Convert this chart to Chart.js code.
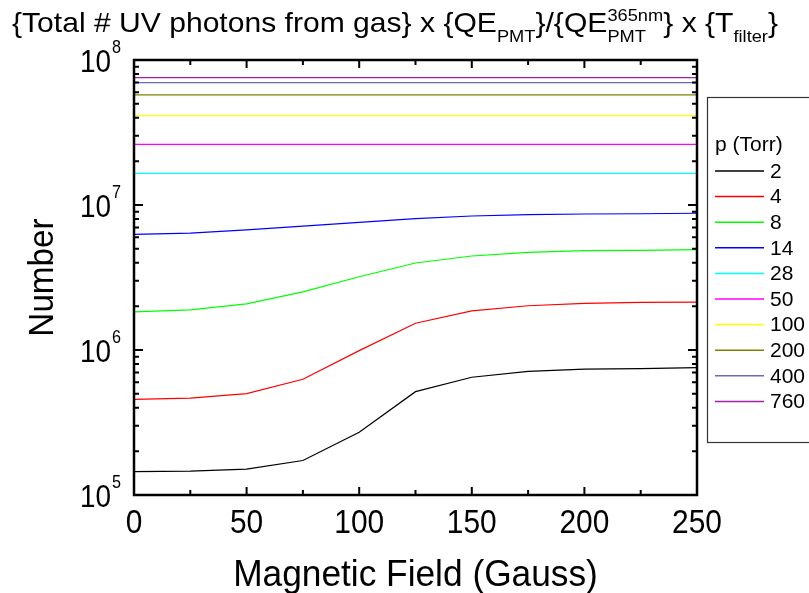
<!DOCTYPE html>
<html>
<head>
<meta charset="utf-8">
<script src="https://cdn.jsdelivr.net/npm/chart.js@4/dist/chart.umd.min.js"></script>
<style>
  html, body { margin: 0; padding: 0; background: #fff; }
  canvas { display: block; }
</style>
</head>
<body>
<canvas id="grafico" width="809" height="593"></canvas>
<script>
// magnetic field (Gauss)
const campo = [0, 25, 50, 75, 100, 125, 150, 175, 200, 225, 250];

// pressures (Torr) and line colours
const pressoes = ['2', '4', '8', '14', '28', '50', '100', '200', '400', '760'];
const cores = ['#000000', '#ff0000', '#00ff00', '#0000ff', '#00ffff',
               '#ff00ff', '#ffff00', '#808000', '#6a6ab8', '#a020a8'];

// number of photons, one array per pressure
const p2   = [1.45e5, 1.46e5, 1.51e5, 1.73e5, 2.71e5, 5.16e5, 6.49e5, 7.13e5, 7.39e5, 7.45e5, 7.55e5];
const p4   = [4.57e5, 4.65e5, 5.00e5, 6.28e5, 9.90e5, 1.53e6, 1.86e6, 2.02e6, 2.10e6, 2.13e6, 2.14e6];
const p8   = [1.83e6, 1.89e6, 2.08e6, 2.52e6, 3.20e6, 3.98e6, 4.45e6, 4.72e6, 4.84e6, 4.87e6, 4.92e6];
const p14  = [6.28e6, 6.40e6, 6.73e6, 7.16e6, 7.60e6, 8.05e6, 8.40e6, 8.57e6, 8.67e6, 8.70e6, 8.77e6];
const p28  = [1.65e7, 1.65e7, 1.65e7, 1.65e7, 1.65e7, 1.65e7, 1.65e7, 1.65e7, 1.65e7, 1.65e7, 1.65e7];
const p50  = [2.62e7, 2.62e7, 2.62e7, 2.62e7, 2.62e7, 2.62e7, 2.62e7, 2.62e7, 2.62e7, 2.62e7, 2.62e7];
const p100 = [4.13e7, 4.13e7, 4.13e7, 4.13e7, 4.13e7, 4.13e7, 4.13e7, 4.13e7, 4.13e7, 4.13e7, 4.13e7];
const p200 = [5.74e7, 5.74e7, 5.74e7, 5.74e7, 5.74e7, 5.74e7, 5.74e7, 5.74e7, 5.74e7, 5.74e7, 5.74e7];
const p400 = [6.98e7, 6.98e7, 6.98e7, 6.98e7, 6.98e7, 6.98e7, 6.98e7, 6.98e7, 6.98e7, 6.98e7, 6.98e7];
const p760 = [7.55e7, 7.55e7, 7.55e7, 7.55e7, 7.55e7, 7.55e7, 7.55e7, 7.55e7, 7.55e7, 7.55e7, 7.55e7];
const series = [p2, p4, p8, p14, p28, p50, p100, p200, p400, p760];

// ticks
const xMajor = [0, 50, 100, 150, 200, 250];
const xMinor = [25, 75, 125, 175, 225];
const yExpoentes = [5, 6, 7, 8];
const yMenores = [2, 3, 4, 5, 6, 7, 8, 9];

const FONTE = '"Liberation Sans", Arial, sans-serif';

// draws text squeezed horizontally to look like a narrow font
function textoEstreito(ctx, txt, x, y, px, fator, align) {
  ctx.save();
  ctx.font = px + 'px ' + FONTE;
  const w = ctx.measureText(txt).width * fator;
  let x0 = x;
  if (align === 'center') x0 = x - w / 2;
  else if (align === 'right') x0 = x - w;
  ctx.translate(x0, y);
  ctx.scale(fator, 1);
  ctx.textAlign = 'left';
  ctx.fillText(txt, 0, 0);
  ctx.restore();
}

const desenhos = {
  id: 'desenhos',
  afterDatasetsDraw(chart) {
    const ctx = chart.ctx;
    const a = chart.chartArea;
    const xs = chart.scales.x, ys = chart.scales.y;
    ctx.save();

    // frame
    ctx.strokeStyle = '#000';
    ctx.lineWidth = 2.5;
    ctx.strokeRect(a.left, a.top, a.right - a.left, a.bottom - a.top);

    // x ticks (inward, bottom and top)
    ctx.lineWidth = 2;
    ctx.beginPath();
    xMajor.forEach(v => {
      const px = xs.getPixelForValue(v);
      ctx.moveTo(px, a.bottom); ctx.lineTo(px, a.bottom - 8);
      ctx.moveTo(px, a.top); ctx.lineTo(px, a.top + 8);
    });
    xMinor.forEach(v => {
      const px = xs.getPixelForValue(v);
      ctx.moveTo(px, a.bottom); ctx.lineTo(px, a.bottom - 5);
      ctx.moveTo(px, a.top); ctx.lineTo(px, a.top + 5);
    });
    // y ticks (inward, left and right)
    yExpoentes.forEach(e => {
      const py = ys.getPixelForValue(Math.pow(10, e));
      ctx.moveTo(a.left, py); ctx.lineTo(a.left + 9, py);
      ctx.moveTo(a.right, py); ctx.lineTo(a.right - 9, py);
      if (e < 8) {
        yMenores.forEach(m => {
          const q = ys.getPixelForValue(m * Math.pow(10, e));
          ctx.moveTo(a.left, q); ctx.lineTo(a.left + 5, q);
          ctx.moveTo(a.right, q); ctx.lineTo(a.right - 5, q);
        });
      }
    });
    ctx.stroke();

    ctx.fillStyle = '#000';
    ctx.textBaseline = 'alphabetic';

    // x tick labels
    xMajor.forEach(v => textoEstreito(ctx, String(v), xs.getPixelForValue(v), a.bottom + 38, 34, 0.88, 'center'));

    // y tick labels 10^n
    yExpoentes.forEach(e => {
      const py = ys.getPixelForValue(Math.pow(10, e));
      textoEstreito(ctx, '10', 111, py + 12, 31, 0.9, 'right');
      textoEstreito(ctx, String(e), 112, py - 7, 18, 0.9, 'left');
    });

    // axis titles
    textoEstreito(ctx, 'Magnetic Field (Gauss)', (a.left + a.right) / 2, 586, 36, 0.98, 'center');
    ctx.save();
    ctx.translate(53, (a.top + a.bottom) / 2);
    ctx.rotate(-Math.PI / 2);
    textoEstreito(ctx, 'Number', 0, 0, 35, 0.95, 'center');
    ctx.restore();

    // title with sub/superscripts
    const partes = [
      { t: '{Total # UV photons from gas} x {QE', f: 28, dy: 0 },
      { t: 'PMT', f: 17, dy: 10 },
      { t: '}/{QE', f: 28, dy: 0 },
      { t: '365nm|PMT', f: 17, dy: 0, pilha: true },
      { t: '} x {T', f: 28, dy: 0 },
      { t: 'filter', f: 17, dy: 10 },
      { t: '}', f: 28, dy: 0 }
    ];
    const larg = p => {
      ctx.font = p.f + 'px ' + FONTE;
      if (p.pilha) {
        const [s, b] = p.t.split('|');
        return Math.max(ctx.measureText(s).width, ctx.measureText(b).width);
      }
      return ctx.measureText(p.t).width;
    };
    const total = partes.reduce((s, p) => s + larg(p), 0);
    const esc = 766 / total;
    ctx.save();
    ctx.translate(12, 0);
    ctx.scale(esc, 1);
    ctx.textAlign = 'left';
    let x = 0;
    const base = 32;
    partes.forEach(p => {
      const w = larg(p);
      ctx.font = p.f + 'px ' + FONTE;
      if (p.pilha) {
        const [s, b] = p.t.split('|');
        ctx.fillText(s, x, base - 11);
        ctx.fillText(b, x, base + 10);
      } else {
        ctx.fillText(p.t, x, base + p.dy);
      }
      x += w;
    });
    ctx.restore();

    // legend box
    ctx.lineWidth = 1.2;
    ctx.strokeStyle = '#333';
    ctx.strokeRect(707.5, 97.5, 120, 345);
    ctx.font = '21px ' + FONTE;
    ctx.textAlign = 'left';
    ctx.textBaseline = 'middle';
    ctx.fillText('p (Torr)', 715, 145);
    chart.data.datasets.forEach((ds, i) => {
      const y = 171 + i * 25.6;
      ctx.strokeStyle = ds.borderColor;
      ctx.lineWidth = 1.5;
      ctx.beginPath();
      ctx.moveTo(715, y); ctx.lineTo(764, y);
      ctx.stroke();
      ctx.fillText(ds.label, 770, y + 1);
    });

    ctx.restore();
  }
};

new Chart(document.getElementById('grafico').getContext('2d'), {
  type: 'line',
  data: {
    labels: campo,
    datasets: series.map((vals, i) => ({
      label: pressoes[i],
      data: vals.map((v, j) => ({ x: campo[j], y: v })),
      borderColor: cores[i],
      borderWidth: 1.2,
      pointRadius: 0,
      tension: 0,
      fill: false
    }))
  },
  options: {
    responsive: false,
    animation: false,
    layout: { padding: { left: 134, right: 112, top: 60, bottom: 98 } },
    plugins: {
      legend: { display: false },
      title: { display: false },
      tooltip: { enabled: false }
    },
    scales: {
      x: { type: 'linear', min: 0, max: 250, display: false },
      y: { type: 'logarithmic', min: 1e5, max: 1e8, display: false }
    }
  },
  plugins: [desenhos]
});
</script>
</body>
</html>
